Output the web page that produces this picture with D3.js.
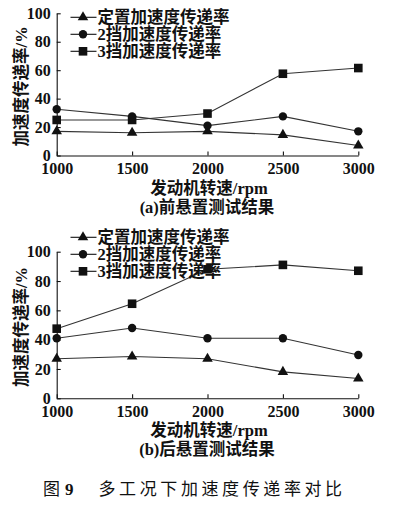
<!DOCTYPE html>
<html>
<head>
<meta charset="utf-8">
<script src="https://cdn.jsdelivr.net/npm/d3@7"></script>
<style>
  body { margin: 0; background: #fff; }
  text { font-family: "Liberation Serif", "Noto Sans CJK SC", serif; }
</style>
</head>
<body>
<div id="chart"></div>
<script>
// engine speeds (rpm)
const speeds = [1000, 1500, 2000, 2500, 3000];
const yTicks = [0, 20, 40, 60, 80, 100];
const seriesNames = ["定置加速度传递率", "2挡加速度传递率", "3挡加速度传递率"];
const markerTypes = ["triangle", "circle", "square"];

// (a) front mount
const frontIdle = [17, 16, 17, 14.5, 7];
const frontGear2 = [32.5, 27.5, 21, 27.5, 17];
const frontGear3 = [25, 25, 29.5, 57.5, 61.5];

// (b) rear mount
const rearIdle = [27, 28.5, 27, 18, 13.5];
const rearGear2 = [41, 48, 41, 41, 29.5];
const rearGear3 = [47.5, 64.5, 88, 91, 87];

const xTitle = "发动机转速/rpm";
const yTitle = "加速度传递率/%";

var svg = d3.select("#chart")
  .append("svg")
  .attr("width", 399)
  .attr("height", 509);

function drawPanel(cfg) {
  var x = d3.scaleLinear()
    .domain([1000, 3000])
    .range([cfg.left, cfg.right]);
  var y = d3.scaleLinear()
    .domain([0, 100])
    .range([cfg.bottom, cfg.top]);

  var g = svg.append("g");

  // axes, ticks pointing inwards
  var xAxis = g.append("g")
    .attr("transform", "translate(0," + cfg.bottom + ")")
    .call(d3.axisBottom(x).tickValues(speeds).tickSizeInner(-4).tickSizeOuter(0).tickPadding(7).tickFormat(d3.format("d")));
  var yAxis = g.append("g")
    .attr("transform", "translate(" + cfg.left + ",0)")
    .call(d3.axisLeft(y).tickValues(yTicks).tickSizeInner(-4).tickSizeOuter(0).tickPadding(6));

  [xAxis, yAxis].forEach(a => {
    a.select(".domain").attr("stroke", "#111").attr("stroke-width", 1.1);
    a.selectAll(".tick line").attr("stroke", "#111").attr("stroke-width", 1.1);
    a.selectAll("text")
      .attr("fill", "#111")
      .style("font-size", "16px")
      .style("font-weight", "bold")
      .style("font-family", "'Liberation Serif', serif");
  });

  var line = d3.line()
    .x((d, i) => x(speeds[i]))
    .y(d => y(d));

  cfg.series.forEach((vals, k) => {
    g.append("path")
      .datum(vals)
      .attr("d", line)
      .attr("fill", "none")
      .attr("stroke", "#333")
      .attr("stroke-width", 1.1);
    vals.forEach((v, i) => drawMarker(g, markerTypes[k], x(speeds[i]), y(v)));
  });

  // legend
  seriesNames.forEach((name, k) => {
    var ly = cfg.legendY + k * 17;
    g.append("line")
      .attr("x1", 70.5).attr("x2", 96.5)
      .attr("y1", ly).attr("y2", ly)
      .attr("stroke", "#111").attr("stroke-width", 1.1);
    drawMarker(g, markerTypes[k], 83, ly);
    g.append("text")
      .attr("x", 97.5)
      .attr("y", ly + 6)
      .attr("fill", "#111")
      .style("font-size", "16.5px")
      .style("font-weight", "bold")
      .text(name);
  });

  // axis titles
  g.append("text")
    .attr("transform", "translate(27," + ((cfg.top + cfg.bottom) / 2 + 2) + ") rotate(-90)")
    .attr("text-anchor", "middle")
    .attr("fill", "#111")
    .style("font-size", "16.5px")
    .style("font-weight", "bold")
    .text(yTitle);

  g.append("text")
    .attr("x", 209)
    .attr("y", cfg.bottom + 38)
    .attr("text-anchor", "middle")
    .attr("fill", "#111")
    .style("font-size", "16.5px")
    .style("font-weight", "bold")
    .text(xTitle);

  g.append("text")
    .attr("x", 207)
    .attr("y", cfg.bottom + 57)
    .attr("text-anchor", "middle")
    .attr("fill", "#111")
    .style("font-size", "16.5px")
    .style("font-weight", "bold")
    .text(cfg.caption);
}

function drawMarker(g, type, cx, cy) {
  if (type === "triangle") {
    g.append("path")
      .attr("d", d3.symbol().type(d3.symbolTriangle).size(48)())
      .attr("transform", "translate(" + cx + "," + cy + ")")
      .attr("fill", "#111");
  } else if (type === "circle") {
    g.append("circle")
      .attr("cx", cx).attr("cy", cy).attr("r", 4.2)
      .attr("fill", "#111");
  } else {
    g.append("rect")
      .attr("x", cx - 4.3).attr("y", cy - 4.3)
      .attr("width", 8.6).attr("height", 8.6)
      .attr("fill", "#111");
  }
}

drawPanel({
  left: 56.7, right: 358.3, top: 13.3, bottom: 155.5, legendY: 17.3,
  series: [frontIdle, frontGear2, frontGear3],
  caption: "(a)前悬置测试结果"
});

drawPanel({
  left: 56.7, right: 358.3, top: 251.7, bottom: 398.3, legendY: 237.3,
  series: [rearIdle, rearGear2, rearGear3],
  caption: "(b)后悬置测试结果"
});

// figure caption
var cap = svg.append("text")
  .attr("x", 43)
  .attr("y", 495)
  .attr("fill", "#111")
  .style("font-size", "17px");
cap.append("tspan").style("font-family", "'Noto Sans CJK SC', sans-serif").text("图");
cap.append("tspan").attr("dx", 5).style("font-weight", "bold").style("font-family", "'Liberation Serif', serif").text("9");
cap.append("tspan").attr("dx", 25).style("font-family", "'Noto Sans CJK SC', sans-serif")
  .style("letter-spacing", "3.6px").text("多工况下加速度传递率对比");
</script>
</body>
</html>
